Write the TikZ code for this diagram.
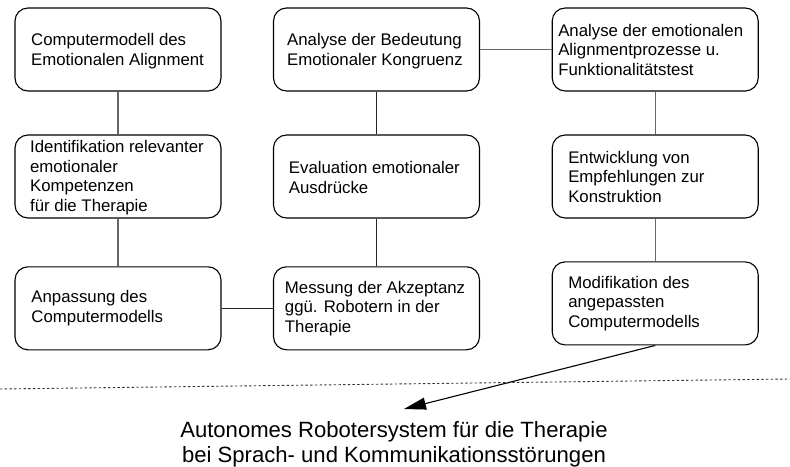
\documentclass[tikz,border=0pt]{standalone}
\usepackage{fontspec}
\setmainfont{Liberation Sans}
\usetikzlibrary{arrows.meta}
\definecolor{linkgray}{HTML}{666666}
\begin{document}
\begin{tikzpicture}[x=1pt,y=-1pt,
  stage/.style={draw=black, line width=1.1pt, rounded corners=13pt,
    minimum width=206pt, minimum height=83pt, inner sep=0pt},
  stagetext/.style={anchor=west, align=left, inner sep=0pt,
    font=\fontsize{16.8pt}{19.5pt}\selectfont},
  graylink/.style={draw=linkgray, line width=1.4pt},
  darklink/.style={draw=black!85, line width=1.2pt},
  goaltext/.style={align=center, inner sep=0pt,
    font=\fontsize{22.1pt}{24.5pt}\selectfont}]
\useasboundingbox (0,0) rectangle (790,466);

% stage boxes, three columns
\node[stage] (cm)  at (118,49.5)    {};
\node[stage] (id)  at (118,176.5)   {};
\node[stage] (an)  at (118,308.3)   {};
\node[stage] (ab)  at (376.5,49.5)  {};
\node[stage] (ev)  at (376.5,176.5) {};
\node[stage] (me)  at (376.5,308.3) {};
\node[stage] (aa)  at (655.2,49.5)  {};
\node[stage] (ew)  at (655.2,176.5) {};
\node[stage] (mo)  at (655.2,303.4) {};

% stage labels
\node[stagetext] (cmt) at ([xshift=16.5pt,yshift=-1.5pt]cm.west) {Computermodell des\\Emotionalen Alignment};
\node[stagetext] (idt) at ([xshift=15.5pt,yshift=-1pt]id.west) {Identifikation relevanter\\emotionaler\\Kompetenzen\\für die Therapie};
\node[stagetext] (ant) at ([xshift=16.8pt]an.west) {Anpassung des\\Computermodells};
\node[stagetext] (abt) at ([xshift=14pt,yshift=-1.5pt]ab.west)   {Analyse der Bedeutung\\Emotionaler Kongruenz};
\node[stagetext] (evt) at ([xshift=15.8pt,yshift=-1pt]ev.west) {Evaluation emotionaler\\Ausdrücke};
\node[stagetext] (met) at ([xshift=11.8pt]me.west) {Messung der Akzeptanz\\ggü. Robotern in der\\Therapie};
\node[stagetext] (aat) at ([xshift=6.4pt]aa.west)  {Analyse der emotionalen\\Alignmentprozesse u.\\Funktionalitätstest};
\node[stagetext] (ewt) at ([xshift=16.4pt]ew.west) {Entwicklung von\\Empfehlungen zur\\Konstruktion};
\node[stagetext] (mot) at ([xshift=16.4pt]mo.west) {Modifikation des\\angepassten\\Computermodells};

% connectors between stages
\draw[graylink] (cm.south) -- (id.north);
\draw[graylink] (id.south) -- (an.north);
\draw[darklink] (an.east) -- (me.west);
\draw[darklink] (me.north) -- (ev.south);
\draw[darklink] (ev.north) -- (ab.south);
\draw[graylink] (ab.east) -- (aa.west);
\draw[graylink] (aa.south) -- (ew.north);
\draw[graylink] (ew.south) -- (mo.north);

% separator and final goal
\coordinate (sepL) at (0,389);
\coordinate (sepR) at (790,379);
\draw[black!80, line width=0.9pt, dash pattern=on 2.4pt off 2.3pt] (sepL) -- (sepR);

\node[goaltext] (goal) at (394,444.5) {Autonomes Robotersystem für die Therapie\\bei Sprach- und Kommunikationsstörungen};
\coordinate (goaltip) at (404,409);
\draw[black, line width=1.1pt, -{Triangle[length=22pt,width=12pt]}] (mo.south) -- (goaltip);
\end{tikzpicture}
\end{document}
